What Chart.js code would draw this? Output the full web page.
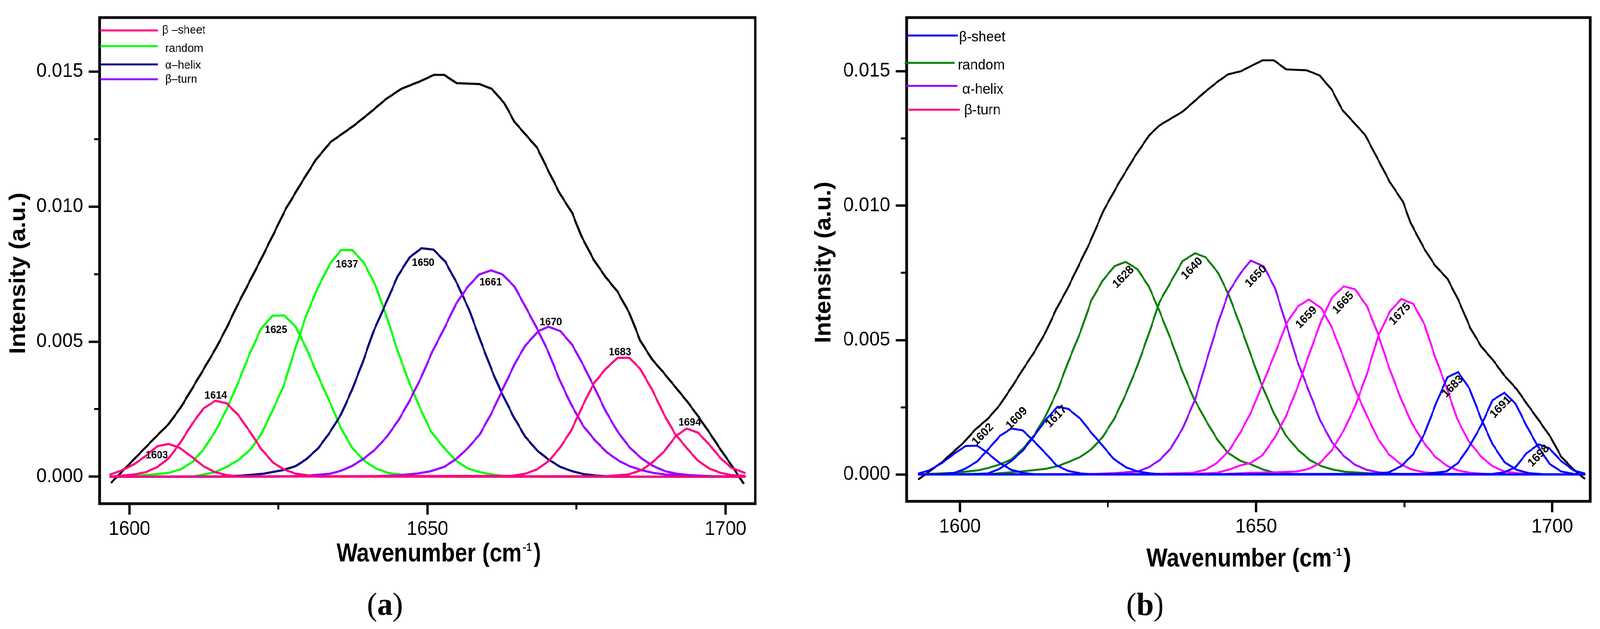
<!DOCTYPE html>
<html>

<head>
    <meta charset="utf-8">
    <script src="https://cdn.jsdelivr.net/npm/chart.js"></script>
    <style>
        html, body { margin: 0; padding: 0; background: #fff; overflow: hidden; }
        #wrap { position: absolute; left: 0; top: 0; width: 4273px; height: 1611px; overflow: hidden; transform-origin: 0 0; }
        canvas { position: absolute; top: 0; }
        #chartA { left: 0; }
        #chartB { left: 2140px; }
    </style>
</head>

<body>
    <div id="wrap">
        <canvas id="chartA" width="2140" height="1611" style="width:2140px;height:1611px"></canvas>
        <canvas id="chartB" width="2133" height="1611" style="width:2133px;height:1611px"></canvas>
    </div>
    <script>
        // ---------- panel (a) data: [wavenumber, intensity] ----------
        const aMeasured = [[1597.0,-0.00021],[1600.8,0.00065],[1604.6,0.00151],[1606.6,0.00195],[1608.6,0.00256],[1610.6,0.00329],[1612.4,0.00396],[1614.5,0.00475],[1616.3,0.00551],[1618.1,0.00634],[1620.1,0.0072],[1622.1,0.00806],[1624.1,0.00895],[1626.2,0.0099],[1628.8,0.01086],[1631.3,0.01174],[1633.8,0.0124],[1637.6,0.01299],[1640.1,0.01343],[1643.1,0.01399],[1645.6,0.01436],[1649.0,0.01466],[1651.1,0.01488],[1652.8,0.01488],[1654.9,0.01457],[1658.7,0.01454],[1660.8,0.01436],[1662.9,0.01383],[1664.6,0.01314],[1668.4,0.01218],[1670.5,0.01123],[1672.2,0.01049],[1674.3,0.00976],[1675.8,0.00892],[1677.9,0.00803],[1679.9,0.00739],[1681.9,0.00685],[1683.9,0.00605],[1685.7,0.00504],[1687.7,0.00434],[1689.7,0.00383],[1691.7,0.00329],[1693.6,0.00278],[1695.4,0.00224],[1697.4,0.0016],[1699.2,0.001],[1701.2,0.00036],[1703.0,-0.00024]];

        const aSheet1603 = [[1596.8,0.00008],[1598.8,0.00024],[1600.8,0.00046],[1602.8,0.00078],[1604.7,0.00113],[1606.6,0.00121],[1608.4,0.00107],[1610.6,0.00071],[1612.4,0.00039],[1614.3,0.00017],[1616.3,0.00006],[1618.1,0.00001],[1703.2,0]];
        const aSheet1614 = [[1596.8,0],[1600.8,0.00008],[1602.8,0.00017],[1604.7,0.00036],[1606.6,0.00068],[1608.6,0.00128],[1610.6,0.00198],[1612.4,0.00252],[1614.4,0.00281],[1616.3,0.00272],[1618.3,0.00227],[1620.2,0.00167],[1622.1,0.00103],[1624.1,0.00052],[1625.9,0.00027],[1627.9,0.00011],[1629.7,0.00006],[1631.5,0],[1703.2,0]];
        const aSheet1683 = [[1596.8,0],[1664.2,0.00003],[1666.4,0.00011],[1668.4,0.00027],[1670.4,0.00059],[1672.2,0.00106],[1674.1,0.0017],[1676.1,0.00265],[1677.9,0.00345],[1679.9,0.00399],[1681.9,0.0044],[1683.9,0.0044],[1685.7,0.00399],[1687.7,0.00322],[1689.7,0.0023],[1691.5,0.0016],[1693.5,0.00106],[1695.4,0.00059],[1697.3,0.0003],[1699.2,0.00014],[1701.0,0.00006],[1703.2,0.00003]];
        const aSheet1694 = [[1596.8,0],[1680.0,0.00002],[1683.7,0.00008],[1685.9,0.00024],[1687.7,0.00052],[1689.7,0.00093],[1691.7,0.00151],[1693.5,0.00178],[1695.4,0.00163],[1697.4,0.00116],[1699.2,0.00068],[1701.0,0.00033],[1703.2,0.00014]];
        const aRandom1625 = [[1596.8,0],[1600.8,0.00003],[1602.8,0.00006],[1606.6,0.00014],[1608.6,0.00027],[1610.6,0.00055],[1612.4,0.001],[1614.4,0.00167],[1616.3,0.00249],[1618.3,0.00351],[1620.2,0.00456],[1622.1,0.00548],[1624.0,0.00596],[1626.0,0.00597],[1627.9,0.00555],[1629.7,0.00475],[1631.7,0.0037],[1633.7,0.00272],[1635.5,0.00179],[1637.4,0.00106],[1639.4,0.00059],[1641.4,0.0003],[1643.4,0.00014],[1645.2,0.00008],[1647.0,0.00003],[1652.0,0],[1703.2,0]];
        const aRandom1637 = [[1596.8,0],[1610.6,0],[1612.5,0.00008],[1614.4,0.00017],[1616.3,0.00036],[1618.3,0.00062],[1620.3,0.001],[1622.1,0.00157],[1624.1,0.00249],[1625.9,0.00338],[1627.7,0.00466],[1629.7,0.00599],[1631.7,0.00704],[1633.7,0.0079],[1635.5,0.00839],[1637.4,0.00839],[1639.4,0.0079],[1641.3,0.00707],[1643.2,0.0059],[1645.0,0.00466],[1647.0,0.00345],[1649.0,0.00243],[1650.6,0.00167],[1652.7,0.00109],[1654.8,0.00059],[1656.8,0.0003],[1658.8,0.00017],[1660.8,0.00008],[1662.8,0.00003],[1668.0,0],[1703.2,0]];
        const aHelix1650 = [[1596.8,0],[1615.0,0],[1619.0,0.00004],[1622.5,0.00011],[1625.7,0.00024],[1627.9,0.00039],[1629.7,0.00065],[1631.7,0.00106],[1633.5,0.0016],[1635.5,0.0023],[1637.3,0.00319],[1639.1,0.00421],[1640.9,0.00535],[1643.0,0.0064],[1645.0,0.00742],[1647.0,0.00812],[1649.0,0.00846],[1651.0,0.00841],[1653.0,0.00796],[1655.0,0.00714],[1657.0,0.00618],[1659.0,0.00497],[1661.0,0.00383],[1662.4,0.00313],[1664.4,0.00224],[1666.4,0.00148],[1668.4,0.00097],[1670.4,0.00062],[1672.3,0.00036],[1674.3,0.0002],[1676.3,0.00009],[1678.3,0.00004],[1681.2,0],[1703.2,0]];
        const aTurn1661 = [[1596.8,0],[1625.0,0],[1630.0,0.00004],[1633.7,0.00011],[1635.5,0.00022],[1637.3,0.00039],[1639.4,0.00068],[1641.2,0.001],[1643.2,0.00148],[1645.2,0.00211],[1647.0,0.00281],[1649.0,0.0037],[1650.8,0.00462],[1652.8,0.00548],[1654.8,0.0064],[1656.8,0.00704],[1658.7,0.00749],[1660.7,0.00764],[1662.6,0.00749],[1664.6,0.00704],[1666.4,0.00631],[1668.4,0.00548],[1670.2,0.00466],[1672.2,0.00357],[1674.1,0.00268],[1676.1,0.00189],[1678.1,0.00135],[1680.1,0.0009],[1682.1,0.00059],[1683.9,0.00039],[1685.9,0.00024],[1687.9,0.00014],[1689.9,0.00008],[1693.8,0.00003],[1703.2,0]];
        const aTurn1670 = [[1596.8,0],[1640.0,0.00001],[1645.0,0.00005],[1648.5,0.00012],[1650.5,0.0002],[1652.8,0.00036],[1654.8,0.00065],[1656.8,0.00106],[1658.8,0.00157],[1660.8,0.00237],[1662.8,0.00332],[1664.8,0.00424],[1666.4,0.00485],[1668.6,0.00539],[1670.3,0.00555],[1672.3,0.00539],[1674.3,0.00488],[1676.1,0.00415],[1678.1,0.00326],[1679.9,0.00243],[1681.9,0.00167],[1683.9,0.00109],[1685.9,0.00068],[1687.9,0.00039],[1689.9,0.0002],[1691.8,0.00011],[1693.8,0.00006],[1697.4,0.00002],[1703.2,0]];

        const aPeakNames = ['1603', '1614', '1625', '1637', '1650', '1661', '1670', '1683', '1694'];
        const aPeakAt = [[1604.6,0.00079],[1614.5,0.00299],[1624.6,0.00543],[1636.5,0.00785],[1649.3,0.00791],[1660.6,0.00719],[1670.7,0.00572],[1682.3,0.0046],[1694.0,0.002]];
        const aLegendNames = ['β –sheet', 'random', 'α–helix', 'β–turn'];

        // ---------- panel (b) data ----------
        const bMeasured = [[1593.1,-0.00017],[1597.0,0.00046],[1600.7,0.0012],[1602.6,0.00167],[1604.8,0.00209],[1606.7,0.00257],[1608.9,0.0033],[1610.7,0.00393],[1612.6,0.00457],[1614.5,0.0053],[1616.3,0.00616],[1618.2,0.00693],[1620.0,0.00775],[1622.0,0.00866],[1624.3,0.00984],[1626.9,0.01087],[1629.5,0.01182],[1632.0,0.01263],[1633.7,0.01299],[1637.6,0.0135],[1641.4,0.01424],[1643.6,0.01463],[1645.3,0.01489],[1647.4,0.015],[1649.1,0.01519],[1651.1,0.01541],[1653.0,0.01541],[1655.1,0.01507],[1658.5,0.01504],[1660.7,0.01485],[1662.8,0.01431],[1664.5,0.01358],[1668.4,0.01263],[1670.5,0.01175],[1672.6,0.01087],[1674.8,0.01014],[1676.1,0.00935],[1678.4,0.00839],[1680.2,0.00778],[1682.3,0.00728],[1684.1,0.00651],[1686.2,0.00543],[1688.0,0.00476],[1690.1,0.00422],[1691.9,0.00368],[1694.0,0.00317],[1695.8,0.0026],[1697.7,0.00202],[1699.7,0.00139],[1701.5,0.00066],[1703.6,0.00018],[1705.4,-0.00015]];

        const bSheet1602 = [[1593.1,0.00004],[1594.8,0.00015],[1597.0,0.00043],[1599.1,0.00078],[1601.0,0.00106],[1602.9,0.00107],[1604.4,0.00085],[1606.5,0.00046],[1608.7,0.00017],[1610.9,0.00005],[1613.0,0],[1705.4,0]];
        const bSheet1609 = [[1593.1,0],[1596.5,0.00001],[1599.1,0.00006],[1600.9,0.00021],[1602.9,0.00048],[1604.8,0.00094],[1606.8,0.00144],[1608.7,0.00171],[1610.6,0.00164],[1612.4,0.00126],[1614.5,0.00078],[1616.3,0.00034],[1618.3,0.00013],[1620.4,0.00004],[1622.6,0],[1705.4,0]];
        const bSheet1617 = [[1593.1,0],[1602.0,0.00001],[1604.8,0.00004],[1606.7,0.00021],[1608.7,0.0005],[1610.7,0.00091],[1612.6,0.00145],[1614.6,0.00206],[1616.5,0.00252],[1618.3,0.00244],[1620.4,0.00206],[1622.2,0.00155],[1624.1,0.00107],[1625.9,0.00059],[1628.0,0.00027],[1630.0,0.00011],[1632.2,0.00004],[1634.5,0],[1705.4,0]];
        const bSheet1683 = [[1593.1,0],[1668.0,0.00001],[1670.6,0.00004],[1672.4,0.00008],[1674.5,0.00031],[1676.5,0.00075],[1678.4,0.00151],[1680.4,0.00266],[1682.3,0.00362],[1684.1,0.00381],[1686.0,0.0032],[1688.0,0.00206],[1689.9,0.00113],[1691.9,0.00046],[1694.0,0.00017],[1696.0,0.00005],[1699.1,0],[1705.4,0]];
        const bSheet1691 = [[1593.1,0],[1678.4,0.00002],[1682.1,0.00011],[1684.1,0.00043],[1686.0,0.00104],[1688.0,0.00183],[1689.9,0.00276],[1691.9,0.00304],[1693.8,0.00263],[1695.6,0.00183],[1697.5,0.00107],[1699.5,0.0004],[1701.5,0.00011],[1703.6,0.00002],[1705.4,0]];
        const bSheet1698 = [[1593.1,0],[1689.9,0.00002],[1691.9,0.00008],[1693.8,0.00027],[1695.6,0.00078],[1697.7,0.00112],[1699.5,0.00097],[1701.5,0.0005],[1703.6,0.00015],[1705.4,0.00004]];
        const bRandom1628 = [[1593.1,0],[1594.8,0.00002],[1599.1,0.00006],[1603.0,0.00015],[1604.8,0.00024],[1606.7,0.00037],[1608.7,0.00056],[1610.7,0.00097],[1612.6,0.00148],[1614.5,0.00218],[1616.5,0.00314],[1618.3,0.00419],[1620.4,0.00533],[1622.2,0.00648],[1624.1,0.00721],[1626.1,0.00775],[1628.0,0.00791],[1630.0,0.00763],[1631.9,0.00699],[1633.7,0.00607],[1635.6,0.00502],[1637.6,0.00381],[1639.5,0.00282],[1641.5,0.00202],[1643.4,0.00132],[1645.2,0.00081],[1647.4,0.0005],[1649.2,0.00037],[1651.2,0.00018],[1653.2,0.00006],[1657.2,0],[1705.4,0]];
        const bRandom1640 = [[1593.1,0],[1605.9,0.00003],[1610.4,0.00011],[1614.5,0.00021],[1616.5,0.00031],[1618.3,0.00046],[1620.4,0.00066],[1622.2,0.00094],[1624.1,0.00139],[1626.1,0.00209],[1628.0,0.00298],[1630.0,0.00406],[1631.9,0.00524],[1633.7,0.00642],[1635.8,0.00724],[1637.6,0.00794],[1639.7,0.00823],[1641.5,0.00808],[1643.6,0.0075],[1645.4,0.00667],[1647.3,0.00556],[1649.1,0.00445],[1650.9,0.00336],[1653.0,0.00228],[1655.0,0.00145],[1657.1,0.00091],[1659.1,0.00053],[1661.0,0.00031],[1663.0,0.00018],[1665.0,0.0001],[1668.7,0.00005],[1672.4,0],[1705.4,0]];
        const bHelix1650 = [[1593.1,0],[1618.0,0],[1623.0,0.00002],[1626.3,0.00005],[1630.0,0.00011],[1631.9,0.00027],[1633.7,0.00053],[1635.6,0.00097],[1637.6,0.00171],[1639.7,0.00279],[1641.5,0.00412],[1643.6,0.00565],[1645.4,0.0068],[1647.4,0.0075],[1649.1,0.00796],[1651.3,0.00774],[1653.2,0.00693],[1655.0,0.00565],[1656.9,0.00425],[1658.9,0.00311],[1660.8,0.00202],[1662.8,0.0012],[1664.8,0.00069],[1666.7,0.00036],[1668.7,0.00017],[1670.6,0.00008],[1672.4,0.00004],[1675.0,0],[1705.4,0]];
        const bTurn1659 = [[1593.1,0],[1633.4,0.00002],[1639.3,0.00006],[1641.5,0.00018],[1643.4,0.00043],[1645.4,0.00088],[1647.4,0.00158],[1649.2,0.00234],[1651.1,0.00336],[1653.2,0.00451],[1655.2,0.00565],[1657.1,0.00626],[1658.9,0.00651],[1661.0,0.00619],[1662.8,0.00546],[1664.7,0.00438],[1666.7,0.00317],[1668.7,0.00218],[1670.6,0.00132],[1672.4,0.00075],[1674.5,0.00037],[1676.3,0.00018],[1678.4,0.00008],[1681.7,0.00002],[1705.4,0]];
        const bTurn1665 = [[1593.1,0],[1638.0,0.00001],[1643.4,0.00006],[1645.4,0.00018],[1647.4,0.00034],[1649.1,0.00043],[1651.1,0.00072],[1653.2,0.00139],[1655.0,0.00215],[1657.1,0.0033],[1658.9,0.00444],[1661.0,0.00572],[1662.8,0.00658],[1664.8,0.007],[1666.7,0.00689],[1668.7,0.00626],[1670.6,0.00521],[1672.4,0.004],[1674.5,0.00279],[1676.3,0.0019],[1678.4,0.00116],[1680.2,0.00066],[1682.3,0.00031],[1684.1,0.00015],[1686.2,0.00006],[1689.9,0],[1705.4,0]];
        const bTurn1675 = [[1593.1,0],[1645.0,0.00002],[1649.1,0.00006],[1653.2,0.00008],[1656.9,0.00011],[1658.9,0.00021],[1660.8,0.00043],[1662.8,0.00091],[1664.8,0.00164],[1666.7,0.00253],[1668.7,0.00374],[1670.6,0.00514],[1672.6,0.00607],[1674.5,0.00653],[1676.5,0.00635],[1678.4,0.00559],[1680.2,0.00438],[1682.1,0.00327],[1683.9,0.00209],[1685.8,0.00126],[1688.0,0.00066],[1689.9,0.00031],[1691.9,0.00011],[1694.0,0.00005],[1697.3,0],[1705.4,0]];

        const bPeakNames = ['1602', '1609', '1617', '1628', '1640', '1650', '1659', '1665', '1675', '1683', '1691', '1698'];
        const bPeakAt = [[1603.9,0.00148],[1609.6,0.00209],[1616.3,0.00215],[1627.6,0.00734],[1639.2,0.00766],[1650.0,0.00737],[1658.5,0.00584],[1664.7,0.00638],[1674.3,0.00597],[1683.2,0.00327],[1691.3,0.0025],[1697.7,0.00069]];
        const bLegendNames = ['β-sheet', 'random', 'α-helix', 'β-turn'];

        const yTitle = 'Intensity (a.u.)';
        const xTitle = 'Wavenumber (cm';
        const xTitleSup = '-1';

        const SANS = '"Liberation Sans", Arial, sans-serif';
        const SERIF = '"Liberation Serif", "Times New Roman", serif';

        // fit the 4273x1611 design to whatever viewport we actually get
        const kx = window.innerWidth / 4273;
        const ky = window.innerHeight / 1611;
        document.getElementById('wrap').style.transform = 'scale(' + kx + ',' + ky + ')';
        const pixelRatio = (window.devicePixelRatio || 1) * Math.max(kx, ky);

        function line(points, color, width) {
            return {
                data: points.map(p => ({ x: p[0], y: p[1] })),
                borderColor: color,
                backgroundColor: color,
                borderWidth: width,
                showLine: true,
                pointRadius: 0,
                fill: false
            };
        }

        // extra drawing: frame, peak labels, legend, axis titles, caption
        function decor(cfg) {
            return {
                id: 'decor',
                afterDraw(chart) {
                    const ctx = chart.ctx;
                    const a = chart.chartArea;
                    const xs = chart.scales.x, ys = chart.scales.y;
                    ctx.save();
                    ctx.lineWidth = 7;
                    ctx.strokeStyle = '#000';
                    ctx.strokeRect(a.left, a.top, a.right - a.left, a.bottom - a.top);

                    // peak labels
                    ctx.fillStyle = '#000';
                    ctx.font = 'bold ' + cfg.peakSize + 'px ' + SANS;
                    ctx.textAlign = 'center';
                    ctx.textBaseline = 'middle';
                    cfg.peakNames.forEach((t, i) => {
                        const px = xs.getPixelForValue(cfg.peakAt[i][0]);
                        const py = ys.getPixelForValue(cfg.peakAt[i][1]);
                        ctx.save();
                        ctx.translate(px, py);
                        ctx.rotate(cfg.peakAngle * Math.PI / 180);
                        ctx.fillText(t, 0, 0);
                        ctx.restore();
                    });

                    // legend
                    ctx.textAlign = 'left';
                    ctx.textBaseline = 'alphabetic';
                    ctx.font = cfg.legendSize + 'px ' + SANS;
                    ctx.lineWidth = 5;
                    cfg.legend.forEach((g, i) => {
                        ctx.strokeStyle = cfg.legendColors[i];
                        ctx.beginPath();
                        ctx.moveTo(g[1], g[0]);
                        ctx.lineTo(g[2], g[0]);
                        ctx.stroke();
                        ctx.fillText(cfg.legendNames[i], g[3], g[4]);
                    });

                    // y title
                    ctx.save();
                    ctx.translate(cfg.yTitleX, cfg.yTitleY);
                    ctx.rotate(-Math.PI / 2);
                    ctx.font = 'bold 61px ' + SANS;
                    ctx.textAlign = 'center';
                    ctx.fillText(yTitle, 0, 0);
                    ctx.restore();

                    // x title with superscript
                    const squeeze = 0.89;
                    ctx.font = 'bold 67px ' + SANS;
                    const w1 = ctx.measureText(xTitle).width;
                    const w3 = ctx.measureText(')').width;
                    ctx.font = 'bold 30px ' + SANS;
                    const w2 = ctx.measureText(xTitleSup).width;
                    const total = (w1 + 3 + w2 + 6 + w3) * squeeze;
                    ctx.save();
                    ctx.translate(cfg.xTitleX - total / 2, cfg.xTitleY);
                    ctx.scale(squeeze, 1);
                    ctx.textAlign = 'left';
                    ctx.font = 'bold 67px ' + SANS;
                    ctx.fillText(xTitle, 0, 0);
                    ctx.fillText(')', w1 + 3 + w2 + 6, 0);
                    ctx.font = 'bold 30px ' + SANS;
                    ctx.fillText(xTitleSup, w1 + 3, -27);
                    ctx.restore();

                    // caption
                    ctx.font = '82px ' + SERIF;
                    const pw = ctx.measureText('(').width;
                    const pr = ctx.measureText(')').width;
                    ctx.font = 'bold 82px ' + SERIF;
                    const lw = ctx.measureText(cfg.caption).width;
                    const cx = cfg.captionX - (pw + lw + pr) / 2;
                    ctx.textAlign = 'left';
                    ctx.font = '82px ' + SERIF;
                    ctx.fillText('(', cx, cfg.captionY);
                    ctx.font = 'bold 82px ' + SERIF;
                    ctx.fillText(cfg.caption, cx + pw, cfg.captionY);
                    ctx.font = '82px ' + SERIF;
                    ctx.fillText(')', cx + pw + lw, cfg.captionY);
                    ctx.restore();
                }
            };
        }

        function panel(canvas, cfg) {
            const tickFont = { family: SANS, size: 50 };
            return new Chart(canvas, {
                type: 'scatter',
                data: { datasets: cfg.datasets },
                options: {
                    responsive: false,
                    animation: false,
                    devicePixelRatio: pixelRatio,
                    events: [],
                    layout: { padding: cfg.padding },
                    elements: { line: { tension: 0, borderJoinStyle: 'round', borderCapStyle: 'round' } },
                    plugins: { legend: { display: false }, tooltip: { enabled: false }, title: { display: false } },
                    scales: {
                        x: {
                            type: 'linear', position: 'bottom', weight: 1,
                            min: cfg.xMin, max: cfg.xMax,
                            afterFit: s => { s.height = 150; },
                            border: { display: false },
                            grid: { drawOnChartArea: false, drawTicks: true, tickLength: 28, tickWidth: 6, tickColor: '#000' },
                            ticks: { stepSize: 50, includeBounds: false, padding: 8, color: '#000', font: tickFont, maxRotation: 0, autoSkip: false, callback: v => String(v) }
                        },
                        xMinor: {
                            type: 'linear', position: 'bottom', weight: 0,
                            min: cfg.xMin, max: cfg.xMax,
                            afterFit: s => { s.height = 0; },
                            border: { display: false },
                            grid: { drawOnChartArea: false, drawTicks: true, tickLength: 15, tickWidth: 5, tickColor: '#000' },
                            ticks: { display: false, stepSize: 25, includeBounds: false, autoSkip: false }
                        },
                        y: {
                            type: 'linear', position: 'left', weight: 1,
                            min: -0.001, max: 0.017,
                            afterFit: s => { s.width = cfg.yAxisWidth; },
                            border: { display: false },
                            grid: { drawOnChartArea: false, drawTicks: true, tickLength: 29, tickWidth: 6, tickColor: '#000' },
                            ticks: { stepSize: 0.005, includeBounds: false, padding: 15, color: '#000', font: tickFont, autoSkip: false, callback: v => v.toFixed(3) }
                        },
                        yMinor: {
                            type: 'linear', position: 'left', weight: 0,
                            min: -0.001, max: 0.017,
                            afterFit: s => { s.width = 0; },
                            border: { display: false },
                            grid: { drawOnChartArea: false, drawTicks: true, tickLength: 15, tickWidth: 5, tickColor: '#000' },
                            ticks: { display: false, stepSize: 0.0025, includeBounds: false, autoSkip: false }
                        }
                    }
                },
                plugins: [decor(cfg)]
            });
        }

        // panel (a)
        const aCol = { sheet: '#ff0080', random: '#00ff00', helix: '#000080', turn: '#9900ff' };
        panel(document.getElementById('chartA'), {
            datasets: [
                line(aSheet1603, aCol.sheet, 5.5), line(aSheet1614, aCol.sheet, 5.5),
                line(aSheet1683, aCol.sheet, 5.5), line(aSheet1694, aCol.sheet, 5.5),
                line(aTurn1661, aCol.turn, 5.5), line(aTurn1670, aCol.turn, 5.5),
                line(aHelix1650, aCol.helix, 5.5),
                line(aRandom1625, aCol.random, 5.5), line(aRandom1637, aCol.random, 5.5),
                line(aMeasured, '#000', 5.5)
            ],
            padding: { left: 0, top: 27, right: 123, bottom: 171 },
            xMin: 1595, xMax: 1705, yAxisWidth: 266,
            peakNames: aPeakNames, peakAt: aPeakAt, peakSize: 27, peakAngle: 0,
            legendNames: aLegendNames,
            legendColors: [aCol.sheet, aCol.random, aCol.helix, aCol.turn],
            legendSize: 30,
            // [lineY, x1, x2, textX, textBaseline]
            legend: [[78, 268, 421, 433, 86], [118, 268, 421, 441, 133], [165, 268, 421, 441, 176], [203, 268, 421, 441, 212]],
            yTitleX: 67, yTitleY: 700,
            xTitleX: 1172, xTitleY: 1438,
            caption: 'a', captionX: 1028, captionY: 1575
        });

        // panel (b)
        const bCol = { sheet: '#0000ff', random: '#008000', helix: '#9900ff', turn: '#ff00ff', turnKey: '#ff0080' };
        panel(document.getElementById('chartB'), {
            datasets: [
                line(bSheet1602, bCol.sheet, 5), line(bSheet1609, bCol.sheet, 5), line(bSheet1617, bCol.sheet, 5),
                line(bSheet1683, bCol.sheet, 5), line(bSheet1691, bCol.sheet, 5), line(bSheet1698, bCol.sheet, 5),
                line(bTurn1659, bCol.turn, 5), line(bTurn1665, bCol.turn, 5), line(bTurn1675, bCol.turn, 5),
                line(bHelix1650, bCol.helix, 5),
                line(bRandom1628, bCol.random, 5), line(bRandom1640, bCol.random, 5),
                line(bMeasured, '#000', 5)
            ],
            padding: { left: 0, top: 23, right: 26, bottom: 177 },
            xMin: 1591, xMax: 1706.4, yAxisWidth: 281,
            peakNames: bPeakNames, peakAt: bPeakAt, peakSize: 30, peakAngle: -45,
            legendNames: bLegendNames,
            legendColors: [bCol.sheet, bCol.random, bCol.helix, bCol.turnKey],
            legendSize: 37,
            legend: [[91, 280, 418, 421, 106], [161, 276, 410, 418, 178], [220, 280, 417, 430, 240], [281, 286, 423, 435, 293]],
            yTitleX: 78, yTitleY: 672,
            xTitleX: 1195, xTitleY: 1451,
            caption: 'b', captionX: 918, captionY: 1575
        });
    </script>
</body>

</html>
